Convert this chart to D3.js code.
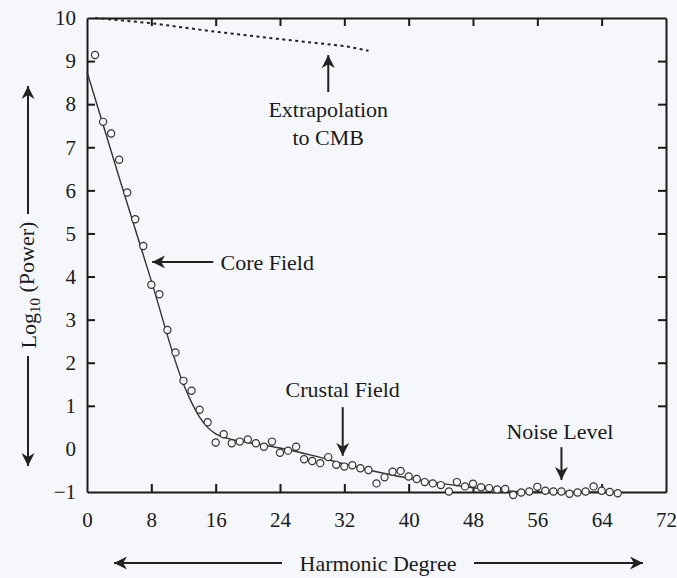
<!DOCTYPE html>
<meta charset="utf-8">
<title>Geomagnetic power spectrum</title>
<style>
    body { margin: 0; background: #f5f7fa; }
    text {
        font-family: "Liberation Serif", "Times New Roman", serif;
        fill: #1a1a1a;
    }
    .axis path, .axis line { stroke: #1a1a1a; stroke-width: 2px; }
    .axis text { font-size: 21px; }
    .obs circle { fill: #f5f7fa; stroke: #333; stroke-width: 1.2px; }
</style>
<svg width="677" height="578"></svg>
<script src="https://d3js.org/d3.v7.min.js"></script>
<script>

    // observed spectrum, degree 1..66
    var degrees = d3.range(1, 67);
    var logPower = [
        9.14, 7.59, 7.32, 6.71, 5.95, 5.33, 4.71, 3.81, 3.59, 2.76,
        2.24, 1.58, 1.35, 0.91, 0.62, 0.15, 0.34, 0.13, 0.17, 0.22,
        0.13, 0.05, 0.17, -0.09, -0.04, 0.05, -0.24, -0.28, -0.33, -0.19,
        -0.37, -0.41, -0.38, -0.45, -0.49, -0.80, -0.66, -0.53, -0.51, -0.64,
        -0.70, -0.77, -0.80, -0.84, -0.99, -0.77, -0.87, -0.81, -0.89, -0.91,
        -0.94, -0.93, -1.07, -1.01, -0.99, -0.88, -0.97, -0.99, -0.99, -1.04,
        -1.01, -0.99, -0.87, -0.97, -1.00, -1.03
    ];

    // smooth fitted curve
    var fitDegrees = [0, 4, 8, 12, 13, 14, 15, 16, 17, 18, 20, 24, 28, 32, 36, 40, 44, 48, 52, 56, 66];
    var fitPower   = [8.75, 6.3, 3.9, 1.5, 1.08, 0.74, 0.5, 0.35, 0.27, 0.22, 0.15, 0.02, -0.15, -0.35, -0.53, -0.68, -0.8, -0.9, -0.97, -1.0, -1.0];

    // extrapolation of the core field to the core-mantle boundary
    var cmbDegrees = [1, 8, 16, 24, 32, 35];
    var cmbPower   = [10.0, 9.88, 9.68, 9.51, 9.35, 9.24];

    var xTicks = [0, 8, 16, 24, 32, 40, 48, 56, 64, 72];
    var yTicks = [-1, 0, 1, 2, 3, 4, 5, 6, 7, 8, 9, 10];

    var svg = d3.select("svg"),
        plotL = 87, plotR = 666, plotT = 18, plotB = 492;

    var x = d3.scaleLinear().domain([0, 72]).range([plotL, plotR]);
    var y = d3.scaleLinear().domain([-1, 10]).range([plotB, plotT]);

    svg.append("defs").append("marker")
        .attr("id", "head")
        .attr("viewBox", "0 0 10 10")
        .attr("refX", 10).attr("refY", 5)
        .attr("markerWidth", 6.5).attr("markerHeight", 6.5)
        .attr("markerUnits", "strokeWidth")
        .attr("orient", "auto")
        .append("path")
        .attr("d", "M0,0 L10,5 L0,10 L3,5 Z")
        .attr("fill", "#222");

    // frame + ticks
    svg.append("g").attr("class", "axis")
        .attr("transform", "translate(0," + plotB + ")")
        .call(d3.axisBottom(x).tickValues(xTicks).tickSizeInner(-8).tickSizeOuter(0).tickPadding(20));
    svg.append("g").attr("class", "axis")
        .attr("transform", "translate(0," + plotT + ")")
        .call(d3.axisTop(x).tickValues(xTicks).tickSizeInner(-8).tickSizeOuter(0).tickFormat(""));
    svg.append("g").attr("class", "axis")
        .attr("transform", "translate(" + plotL + ",0)")
        .call(d3.axisLeft(y).tickValues(yTicks).tickSizeInner(-8).tickSizeOuter(0).tickPadding(11));
    svg.append("g").attr("class", "axis")
        .attr("transform", "translate(" + plotR + ",0)")
        .call(d3.axisRight(y).tickValues(yTicks).tickSizeInner(-8).tickSizeOuter(0).tickFormat(""));

    // hide ticks sitting on the frame corners
    svg.selectAll(".axis .tick").filter(function (d) { return d === 0 || d === 72 || d === -1 || d === 10; })
        .select("line").remove();

    // CMB extrapolation (dotted)
    svg.append("path")
        .datum(d3.zip(cmbDegrees, cmbPower))
        .attr("fill", "none")
        .attr("stroke", "#222")
        .attr("stroke-width", 2)
        .attr("stroke-dasharray", "3,3.5")
        .attr("d", d3.line().x(function (d) { return x(d[0]); }).y(function (d) { return y(d[1]); }));

    // fitted curve
    svg.append("path")
        .datum(d3.zip(fitDegrees, fitPower))
        .attr("fill", "none")
        .attr("stroke", "#333")
        .attr("stroke-width", 1.4)
        .attr("d", d3.line().curve(d3.curveMonotoneX)
            .x(function (d) { return x(d[0]); }).y(function (d) { return y(d[1]); }));

    // observations
    svg.append("g").attr("class", "obs")
        .selectAll("circle")
        .data(d3.zip(degrees, logPower))
        .enter().append("circle")
        .attr("cx", function (d) { return x(d[0]); })
        .attr("cy", function (d) { return y(d[1]); })
        .attr("r", 3.6);

    function arrow(x1, y1, x2, y2) {
        svg.append("line")
            .attr("x1", x(x1)).attr("y1", y(y1))
            .attr("x2", x(x2)).attr("y2", y(y2))
            .attr("stroke", "#222").attr("stroke-width", 2)
            .attr("marker-end", "url(#head)");
    }
    function label(txt, dx, dy, anchor) {
        svg.append("text")
            .attr("x", x(dx)).attr("y", y(dy))
            .attr("dy", "0.35em")
            .attr("text-anchor", anchor || "middle")
            .style("font-size", "22px")
            .text(txt);
    }

    arrow(30, 8.28, 30, 9.14);
    label("Extrapolation", 30, 7.89);
    label("to CMB", 30, 7.24);

    arrow(15.7, 4.34, 8.1, 4.34);
    label("Core Field", 16.6, 4.34, "start");

    arrow(31.8, 0.97, 31.8, -0.16);
    label("Crustal Field", 31.8, 1.38);

    arrow(59.0, 0.04, 59.0, -0.72);
    label("Noise Level", 58.8, 0.4);

    // axis titles
    svg.append("text")
        .attr("x", 378).attr("y", 563).attr("dy", "0.35em")
        .attr("text-anchor", "middle")
        .style("font-size", "22px")
        .text("Harmonic Degree");
    svg.append("line").attr("x1", 282).attr("y1", 563).attr("x2", 114).attr("y2", 563)
        .attr("stroke", "#222").attr("stroke-width", 2).attr("marker-end", "url(#head)");
    svg.append("line").attr("x1", 474).attr("y1", 563).attr("x2", 643).attr("y2", 563)
        .attr("stroke", "#222").attr("stroke-width", 2).attr("marker-end", "url(#head)");

    var yt = svg.append("text")
        .attr("transform", "translate(28,285) rotate(-90)")
        .attr("dy", "0.35em")
        .attr("text-anchor", "middle")
        .style("font-size", "22px");
    yt.append("tspan").text("Log");
    yt.append("tspan").attr("dy", "0.3em").style("font-size", "15px").text("10");
    yt.append("tspan").attr("dy", "-0.3em").text(" (Power)");

    svg.append("line").attr("x1", 28).attr("y1", 214).attr("x2", 28).attr("y2", 86)
        .attr("stroke", "#222").attr("stroke-width", 2).attr("marker-end", "url(#head)");
    svg.append("line").attr("x1", 28).attr("y1", 356).attr("x2", 28).attr("y2", 466)
        .attr("stroke", "#222").attr("stroke-width", 2).attr("marker-end", "url(#head)");

</script>
